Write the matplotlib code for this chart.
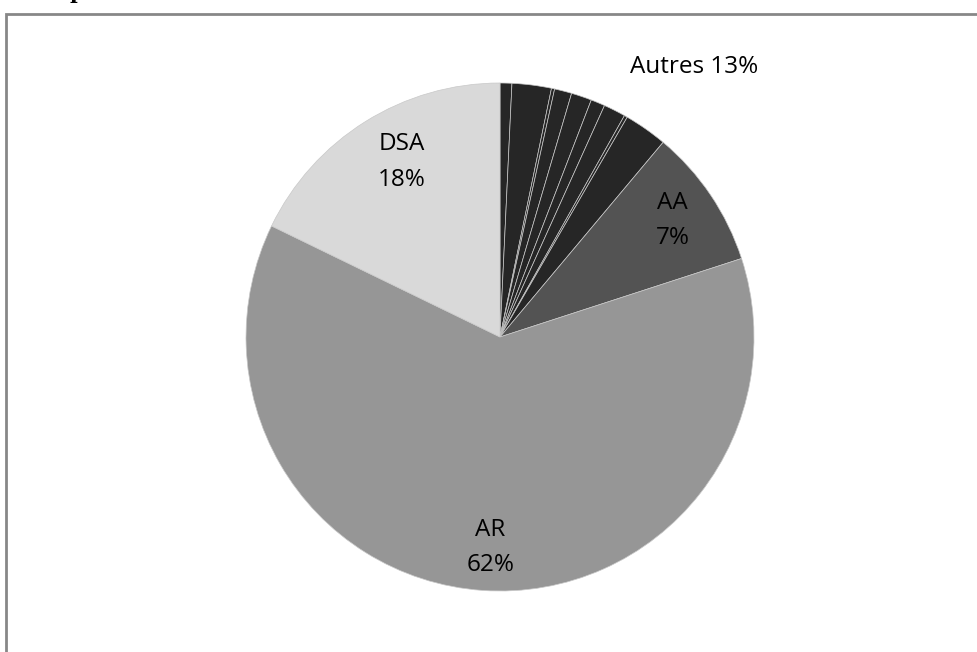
import numpy as np
import matplotlib.pyplot as plt

# slice shares (%), clockwise from 12 o'clock
autres_parts = [0.75, 2.5, 0.2, 1.1, 1.3, 0.9, 1.4, 0.2, 2.75]
aa_share = 8.9
ar_share = 62.2
dsa_share = 17.8

labels = ["AA\n7%", "AR\n62%", "DSA\n18%"]
autres_label = "Autres 13%"

values = autres_parts + [aa_share, ar_share, dsa_share]
colors = ["#262626"] * len(autres_parts) + ["#535353", "#969696", "#d9d9d9"]

W, H = 978, 652
fig = plt.figure(figsize=(W / 100, H / 100), dpi=100)
ax = fig.add_axes([0, 0, 1, 1])

cx, cy, r = 500, H - 337, 254
wedges, _ = ax.pie(values, colors=colors, startangle=90, counterclock=False,
                   center=(cx, cy), radius=r, frame=True,
                   wedgeprops=dict(edgecolor="#c8c8c8", linewidth=0.5))
ax.set_xlim(0, W)
ax.set_ylim(0, H)
ax.set_aspect("equal")
ax.axis("off")

font = dict(family=["Open Sans", "DejaVu Sans"], fontsize=17.5, color="black",
            ha="center", va="center", linespacing=1.65)

# labels for the three big slices, placed along each wedge's mid angle
n = len(autres_parts)
for w, lab, dist, shift in zip(wedges[n:], labels, [0.82, 0.83, 0.79], [0, 1.3, -2.6]):
    mid = np.deg2rad((w.theta1 + w.theta2) / 2 + shift)
    ax.text(cx + dist * r * np.cos(mid), cy + dist * r * np.sin(mid), lab, **font)

# outside label for the grouped small slices
t1 = wedges[0].theta2
t2 = wedges[n - 1].theta1
mid = np.deg2rad((t1 + t2) / 2 - 15.7)
ax.text(cx + 1.31 * r * np.cos(mid), cy + 1.31 * r * np.sin(mid), autres_label, **font)

# chart frame (runs off the right/bottom edges)
frame = plt.Rectangle((6, -20), W + 20, H - 14 + 20, fill=False,
                      edgecolor="#878787", linewidth=2)
ax.add_patch(frame)

# cropped title descender at the top
fig.text(0.079, 1.011, "p", fontsize=15, fontweight="bold", family="serif",
         ha="center", va="center")

fig.savefig("out.png", dpi=100)
